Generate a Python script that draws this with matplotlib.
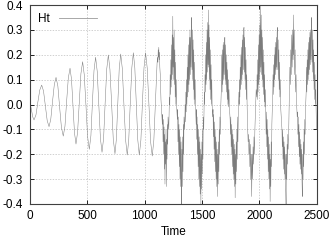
import matplotlib
matplotlib.use("Agg")
import matplotlib.pyplot as plt

# ---- regular (growing) oscillation, 0..1110 ----
reg_t = [0, 12, 24, 35, 52, 68, 85, 102, 118, 134, 150, 166, 181, 196, 212, 227,
         243, 258, 274, 290, 305, 319, 334, 349, 362, 375, 388, 401, 415, 430, 444,
         459, 473, 488, 502, 517, 531, 544, 558, 572, 586, 600, 614, 628, 642, 655,
         669, 683, 697, 712, 726, 741, 753, 766, 778, 791, 805, 819, 834, 848, 861,
         874, 888, 901, 914, 927, 940, 953, 967, 980, 994, 1008, 1022, 1037, 1051,
         1066, 1080, 1094, 1108]
reg_v = [0.01, -0.02, -0.05, -0.062, -0.042, 0.008, 0.058, 0.078, 0.054, -0.006,
         -0.065, -0.089, -0.060, 0.010, 0.080, 0.109, 0.074, -0.009, -0.092, -0.127,
         -0.087, 0.010, 0.106, 0.146, 0.101, -0.007, -0.114, -0.159, -0.111, 0.007,
         0.124, 0.172, 0.120, -0.004, -0.128, -0.180, -0.126, 0.005, 0.136, 0.190,
         0.134, -0.001, -0.136, -0.192, -0.135, 0.004, 0.142, 0.199, 0.141, 0.001,
         -0.140, -0.198, -0.139, 0.003, 0.144, 0.203, 0.144, 0.0, -0.144, -0.203,
         -0.143, 0.003, 0.148, 0.208, 0.148, 0.003, -0.143, -0.203, -0.143, 0.003,
         0.148, 0.208, 0.147, 0.001, -0.146, -0.207, -0.143, 0.012, 0.166]

# ---- irregular part, 1110..2500 ----
chaos_t = [
    1112, 1115, 1118, 1121, 1123, 1126, 1129, 1132, 1136, 1142, 1150,
    1154, 1157, 1160, 1163, 1166, 1169, 1172, 1175, 1177, 1180, 1183, 1186, 1189, 1192, 1195, 1198, 1201, 1204, 1210, 1216,
    1219, 1222, 1225, 1228, 1231, 1234, 1237, 1240, 1243, 1245, 1248, 1251, 1254, 1257, 1260, 1263, 1266, 1269, 1272, 1275, 1280, 1285,
    1287, 1290, 1293, 1296, 1299, 1302, 1305, 1308, 1311, 1314, 1317, 1320, 1322, 1325, 1328, 1331, 1334, 1337, 1340, 1343, 1348, 1353,
    1356, 1359, 1362, 1365, 1368, 1371, 1374, 1377, 1380, 1383, 1386, 1389, 1392, 1395, 1398, 1401, 1404, 1407, 1410, 1413, 1416, 1419, 1422, 1425, 1428, 1431, 1434, 1437, 1440, 1444, 1449,
    1451, 1454, 1457, 1460, 1463, 1466, 1469, 1472, 1475, 1478, 1481, 1484, 1487, 1490, 1493, 1496, 1499, 1502, 1505, 1508, 1511, 1515, 1518,
    1520, 1523, 1526, 1529, 1532, 1535, 1538, 1541, 1544, 1547, 1550, 1553, 1555, 1558, 1561, 1564, 1567, 1570, 1573, 1576, 1579, 1582, 1585, 1588, 1593,
    1596, 1599, 1602, 1605, 1608, 1611, 1614, 1617, 1620, 1623, 1626, 1629, 1632, 1635, 1638, 1641, 1644, 1647, 1650, 1653, 1656, 1659, 1664, 1670,
    1672, 1675, 1678, 1681, 1684, 1687, 1690, 1693, 1696, 1699, 1702, 1705, 1708, 1711, 1714, 1717, 1720, 1723, 1726, 1729, 1732, 1735, 1740, 1745,
    1748, 1751, 1754, 1757, 1760, 1763, 1766, 1769, 1772, 1775, 1778, 1781, 1784, 1787, 1789, 1792, 1795, 1798, 1801, 1804, 1807, 1810, 1813, 1818, 1822,
    1824, 1827, 1830, 1833, 1836, 1839, 1842, 1845, 1848, 1851, 1854, 1857, 1860, 1863, 1866, 1869, 1872, 1875, 1878, 1881, 1884, 1887, 1890, 1893, 1897, 1902,
    1905, 1909, 1913, 1917, 1921, 1925, 1929, 1933, 1937, 1941, 1945, 1949, 1953, 1957, 1961, 1966, 1972, 1978,
    1980, 1983, 1986, 1989, 1992, 1995, 1998, 2001, 2004, 2007, 2010, 2013, 2016, 2019, 2022, 2025, 2028, 2031, 2034, 2037, 2040, 2043, 2046, 2049, 2052, 2056,
    2059, 2062, 2065, 2068, 2071, 2074, 2077, 2080, 2083, 2086, 2089, 2092, 2094, 2097, 2100, 2103, 2106, 2109, 2113, 2117,
    2119, 2122, 2125, 2128, 2131, 2134, 2137, 2140, 2143, 2146, 2149, 2152, 2155, 2158, 2161, 2164, 2167, 2170, 2173, 2176, 2179, 2182, 2187, 2193,
    2197, 2200, 2203, 2206, 2209, 2212, 2215, 2218, 2221, 2224, 2227, 2230, 2233, 2236, 2239, 2242, 2245, 2248, 2251, 2256, 2262,
    2266, 2270, 2274, 2278, 2282, 2286, 2290, 2294, 2297, 2300, 2304, 2308, 2312, 2316, 2320, 2325, 2330,
    2333, 2336, 2339, 2342, 2345, 2348, 2351, 2354, 2357, 2360, 2363, 2366, 2369, 2372, 2375, 2378, 2381, 2384, 2387, 2390, 2393, 2396, 2399, 2404, 2409,
    2411, 2414, 2417, 2420, 2423, 2426, 2429, 2432, 2435, 2438, 2441, 2444, 2447, 2450, 2453, 2456, 2459, 2462, 2465, 2468, 2471, 2474, 2477, 2480, 2483, 2486, 2489, 2492, 2496, 2500,
]
chaos_v = [
    0.19, 0.17, 0.22, 0.19, 0.23, 0.18, 0.21, 0.15, 0.12, 0.02, -0.05,
    -0.08, -0.04, -0.15, -0.06, -0.20, -0.09, -0.26, -0.12, -0.32, -0.15, -0.24, -0.10, -0.33, -0.14, -0.22, -0.08, -0.16, -0.05, -0.10, 0.03,
    0.0, 0.12, 0.04, 0.18, 0.07, 0.24, 0.10, 0.28, 0.12, 0.355, 0.15, 0.27, 0.10, 0.30, 0.08, 0.22, 0.03, 0.17, 0.0, 0.10, -0.02, -0.06,
    -0.02, -0.15, -0.05, -0.20, -0.08, -0.25, -0.10, -0.30, -0.13, -0.33, -0.15, -0.36, -0.40, -0.18, -0.33, -0.13, -0.27, -0.08, -0.20, -0.05, -0.10, 0.0,
    -0.07, 0.05, -0.03, 0.10, 0.0, 0.15, 0.03, 0.20, 0.05, 0.24, 0.08, 0.27, 0.10, 0.30, 0.12, 0.27, 0.15, 0.33, 0.35, 0.14, 0.30, 0.10, 0.26, 0.06, 0.22, 0.02, 0.17, 0.0, 0.10, -0.02, -0.08,
    -0.02, -0.14, -0.05, -0.20, -0.08, -0.25, -0.10, -0.30, -0.13, -0.33, -0.15, -0.36, -0.18, -0.40, -0.20, -0.34, -0.15, -0.28, -0.10, -0.22, -0.05, -0.10, 0.0,
    0.05, 0.0, 0.12, 0.05, 0.20, 0.08, 0.25, 0.10, 0.30, 0.13, 0.33, 0.16, 0.38, 0.15, 0.32, 0.10, 0.27, 0.06, 0.22, 0.02, 0.16, 0.0, 0.10, 0.0, -0.05,
    -0.02, -0.13, -0.04, -0.18, -0.07, -0.23, -0.10, -0.27, -0.13, -0.30, -0.15, -0.33, -0.18, -0.37, -0.20, -0.32, -0.15, -0.27, -0.10, -0.20, -0.05, -0.12, 0.0, 0.08,
    0.20, 0.05, 0.22, 0.08, 0.24, 0.10, 0.25, 0.12, 0.23, 0.27, 0.10, 0.24, 0.08, 0.20, 0.05, 0.17, 0.02, 0.14, 0.0, 0.10, -0.01, 0.06, -0.02, -0.06,
    -0.12, -0.05, -0.17, -0.08, -0.20, -0.10, -0.25, -0.12, -0.28, -0.14, -0.30, -0.16, -0.33, -0.18, -0.375, -0.20, -0.32, -0.15, -0.27, -0.10, -0.22, -0.05, -0.15, 0.0, 0.05,
    0.0, 0.10, 0.03, 0.15, 0.06, 0.20, 0.08, 0.23, 0.10, 0.26, 0.12, 0.28, 0.14, 0.30, 0.31, 0.13, 0.27, 0.10, 0.23, 0.06, 0.18, 0.02, 0.12, 0.0, -0.08, -0.15,
    -0.12, -0.20, -0.14, -0.25, -0.16, -0.30, -0.20, -0.37, -0.20, -0.30, -0.17, -0.24, -0.13, -0.20, -0.10, -0.03, 0.06, 0.03,
    0.12, 0.02, 0.18, 0.05, 0.24, 0.08, 0.28, 0.10, 0.32, 0.13, 0.40, 0.15, 0.36, 0.12, 0.30, 0.10, 0.27, 0.07, 0.22, 0.04, 0.17, 0.01, 0.12, -0.01, 0.06, -0.04,
    -0.12, -0.03, -0.17, -0.06, -0.22, -0.10, -0.27, -0.13, -0.30, -0.16, -0.34, -0.20, -0.39, -0.22, -0.33, -0.15, -0.25, -0.08, -0.02, 0.05,
    0.12, 0.04, 0.16, 0.07, 0.20, 0.10, 0.23, 0.12, 0.25, 0.14, 0.27, 0.15, 0.29, 0.31, 0.14, 0.26, 0.10, 0.22, 0.06, 0.17, 0.03, 0.10, -0.02, -0.07,
    -0.10, -0.17, -0.10, -0.22, -0.13, -0.26, -0.15, -0.28, -0.17, -0.30, -0.20, -0.34, -0.40, -0.20, -0.30, -0.16, -0.24, -0.12, -0.18, -0.10, 0.05,
    0.15, 0.08, 0.22, 0.12, 0.28, 0.15, 0.30, 0.18, 0.36, 0.20, 0.30, 0.12, 0.22, 0.05, 0.12, 0.0, -0.05,
    -0.03, -0.12, -0.05, -0.17, -0.08, -0.21, -0.11, -0.24, -0.14, -0.26, -0.16, -0.28, -0.18, -0.31, -0.37, -0.20, -0.30, -0.15, -0.25, -0.10, -0.20, -0.06, -0.12, 0.0, 0.06,
    0.15, 0.05, 0.18, 0.08, 0.22, 0.10, 0.25, 0.12, 0.27, 0.14, 0.29, 0.16, 0.30, 0.18, 0.32, 0.35, 0.17, 0.30, 0.13, 0.26, 0.10, 0.22, 0.06, 0.17, 0.02, 0.12, 0.0, 0.06, -0.05, -0.10,
]
assert len(reg_t) == len(reg_v), (len(reg_t), len(reg_v))
assert len(chaos_t) == len(chaos_v), (len(chaos_t), len(chaos_v))

time = reg_t + chaos_t
ht = reg_v + chaos_v

x_ticks = [0, 500, 1000, 1500, 2000, 2500]
y_ticks = [-0.4, -0.3, -0.2, -0.1, 0.0, 0.1, 0.2, 0.3, 0.4]
y_labels = ["-0.4", "-0.3", "-0.2", "-0.1", "0.0", "0.1", "0.2", "0.3", "0.4"]

plt.rcParams['font.family'] = ['Liberation Sans', 'DejaVu Sans']

fig = plt.figure(figsize=(3.31, 2.40), dpi=100)
ax = fig.add_axes([30 / 331, 36 / 240, 286.7 / 331, 199 / 240])

ax.plot(time, ht, color='#7c7c7c', lw=0.35, label='Ht')

ax.set_xlim(0, 2500)
ax.set_ylim(-0.4, 0.4)
ax.set_xticks(x_ticks)
ax.set_yticks(y_ticks)
ax.set_yticklabels(y_labels)
ax.tick_params(direction='in', length=3, width=0.6, labelsize=8.5,
               top=True, right=True, colors='#000000', pad=4)
ax.tick_params(axis='y', pad=5)
ax.grid(True, color='#bdbdbd', lw=0.5, linestyle=(0, (2, 2)))
for s in ax.spines.values():
    s.set_color('#404040')
    s.set_linewidth(0.8)

ax.set_xlabel('Time', fontsize=8.5, labelpad=3)

leg = ax.legend(loc='upper left', frameon=False, markerfirst=False, fontsize=8.5,
                handlelength=3.2, handletextpad=0.8, borderaxespad=0.3,
                bbox_to_anchor=(0.0, 1.0))
for h in leg.get_lines():
    h.set_linewidth(0.6)
    h.set_color('#9a9a9a')

fig.savefig('out.png', dpi=100)
